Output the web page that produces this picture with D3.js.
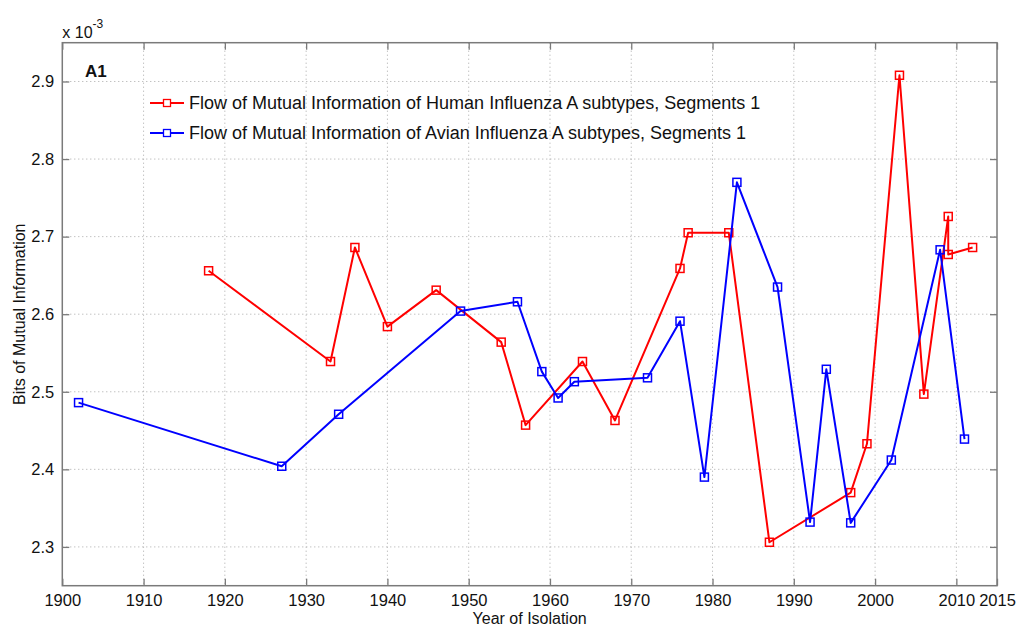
<!DOCTYPE html>
<html>
<head>
<meta charset="utf-8">
<script src="https://cdn.jsdelivr.net/npm/d3@7"></script>
<style>
  html, body { margin: 0; padding: 0; background: #fff; }
  svg { display: block; font-family: "Liberation Sans", Arial, Helvetica, sans-serif; }
</style>
</head>
<body>
<svg id="chart" width="1017" height="626"></svg>
<script>
// Mutual information values are in units of 1e-3 bits.
const humanYears = [1918, 1933, 1936, 1940, 1946, 1954, 1957, 1964, 1968, 1976, 1977, 1982, 1987, 1997, 1999, 2003, 2006, 2009, 2009, 2012];
const humanValues = [2.656, 2.539, 2.686, 2.584, 2.631, 2.564, 2.457, 2.539, 2.463, 2.659, 2.705, 2.705, 2.306, 2.370, 2.433, 2.908, 2.497, 2.726, 2.677, 2.686];

const avianYears = [1902, 1927, 1934, 1949, 1956, 1959, 1961, 1963, 1972, 1976, 1979, 1983, 1988, 1992, 1994, 1997, 2002, 2008, 2011];
const avianValues = [2.486, 2.404, 2.471, 2.604, 2.616, 2.526, 2.492, 2.513, 2.518, 2.591, 2.390, 2.770, 2.635, 2.332, 2.529, 2.331, 2.412, 2.683, 2.439];

const xTickValues = [1900, 1910, 1920, 1930, 1940, 1950, 1960, 1970, 1980, 1990, 2000, 2010, 2015];
const yTickValues = [2.3, 2.4, 2.5, 2.6, 2.7, 2.8, 2.9];

const seriesNames = [
  "Flow of Mutual Information of Human Influenza A subtypes, Segments 1",
  "Flow of Mutual Information of Avian Influenza A subtypes, Segments 1"
];
const seriesColors = ["#ff0000", "#0000ff"];

const svg = d3.select("#chart");
const plot = { left: 62.3, top: 42.7, right: 997, bottom: 585.7 };

const x = d3.scaleLinear().domain([1900, 2015]).range([plot.left, plot.right]);
const y = d3.scaleLinear().domain([2.25, 2.95]).range([plot.bottom, plot.top]);

const axisColor = "#7a7a7a";
const gridColor = "#a8a8a8";

// dotted grid
const grid = svg.append("g");
grid.selectAll("line.gx").data(xTickValues.filter(d => d > 1900 && d < 2015)).join("line")
  .attr("x1", d => x(d)).attr("x2", d => x(d))
  .attr("y1", plot.top).attr("y2", plot.bottom)
  .attr("stroke", gridColor).attr("stroke-width", 1).attr("stroke-dasharray", "1,3");
grid.selectAll("line.gy").data(yTickValues).join("line")
  .attr("y1", d => y(d)).attr("y2", d => y(d))
  .attr("x1", plot.left).attr("x2", plot.right)
  .attr("stroke", gridColor).attr("stroke-width", 1).attr("stroke-dasharray", "1,3");

// axes with inward ticks on all four sides
function styleAxis(size) {
  return g => {
    g.select(".domain").remove();
    g.selectAll(".tick line").attr("stroke", axisColor).attr("stroke-width", 1.3);
    g.selectAll(".tick text").attr("fill", "#111").style("font-size", size + "px");
  };
}

svg.append("g").attr("transform", `translate(0,${plot.bottom})`)
  .call(d3.axisBottom(x).tickValues(xTickValues).tickFormat(d3.format("d"))
    .tickSizeInner(-7).tickSizeOuter(0).tickPadding(8.5))
  .call(styleAxis(16.5));
svg.append("g").attr("transform", `translate(0,${plot.top})`)
  .call(d3.axisTop(x).tickValues(xTickValues).tickFormat("")
    .tickSizeInner(-7).tickSizeOuter(0))
  .call(styleAxis(16));
svg.append("g").attr("transform", `translate(${plot.left},0)`)
  .call(d3.axisLeft(y).tickValues(yTickValues).tickFormat(d3.format(".1f"))
    .tickSizeInner(-7).tickSizeOuter(0).tickPadding(8))
  .call(styleAxis(16.5));
svg.append("g").attr("transform", `translate(${plot.right},0)`)
  .call(d3.axisRight(y).tickValues(yTickValues).tickFormat("")
    .tickSizeInner(-7).tickSizeOuter(0))
  .call(styleAxis(16));

svg.append("rect")
  .attr("x", plot.left).attr("y", plot.top)
  .attr("width", plot.right - plot.left).attr("height", plot.bottom - plot.top)
  .attr("fill", "none").attr("stroke", axisColor).attr("stroke-width", 1.5);

// exponent label
const expo = svg.append("text").attr("x", plot.left).attr("y", 38)
  .attr("fill", "#111").style("font-size", "16px");
expo.append("tspan").text("x 10");
expo.append("tspan").attr("dy", -10).style("font-size", "12px").text("-3");

// axis titles
svg.append("text").attr("x", (plot.left + plot.right) / 2).attr("y", 624)
  .attr("text-anchor", "middle").attr("fill", "#111").style("font-size", "16px")
  .text("Year of Isolation");
svg.append("text").attr("transform", `translate(24.5,${(plot.top + plot.bottom) / 2}) rotate(-90)`)
  .attr("text-anchor", "middle").attr("fill", "#111").style("font-size", "16px")
  .text("Bits of Mutual Information");

// panel tag
svg.append("text").attr("x", 85).attr("y", 77).attr("fill", "#111")
  .style("font-size", "17px").style("font-weight", "bold").text("A1");

// series
const series = [
  { years: humanYears, values: humanValues, color: seriesColors[0], name: seriesNames[0] },
  { years: avianYears, values: avianValues, color: seriesColors[1], name: seriesNames[1] }
];

const line = d3.line().x(d => x(d[0])).y(d => y(d[1]));
const markerSize = 8;

series.forEach(s => {
  const pts = s.years.map((yr, i) => [yr, s.values[i]]);
  const g = svg.append("g");
  g.append("path").datum(pts).attr("d", line)
    .attr("fill", "none").attr("stroke", s.color).attr("stroke-width", 2)
    .attr("stroke-linejoin", "round");
  g.selectAll("rect").data(pts).join("rect")
    .attr("x", d => x(d[0]) - markerSize / 2).attr("y", d => y(d[1]) - markerSize / 2)
    .attr("width", markerSize).attr("height", markerSize)
    .attr("fill", "none").attr("stroke", s.color).attr("stroke-width", 1.5);
});

// legend
const legend = svg.append("g").attr("transform", "translate(150,103)");
series.forEach((s, i) => {
  const row = legend.append("g").attr("transform", `translate(0,${i * 30})`);
  row.append("line").attr("x1", 0).attr("x2", 34).attr("y1", 0).attr("y2", 0)
    .attr("stroke", s.color).attr("stroke-width", 2);
  row.append("rect").attr("x", 17 - 3.5).attr("y", -3.5).attr("width", 7).attr("height", 7)
    .attr("fill", "#fff").attr("stroke", s.color).attr("stroke-width", 1.3);
  row.append("text").attr("x", 39).attr("y", 0).attr("dy", "0.35em")
    .attr("fill", "#111").style("font-size", "18px").text(s.name);
});
</script>
</body>
</html>
